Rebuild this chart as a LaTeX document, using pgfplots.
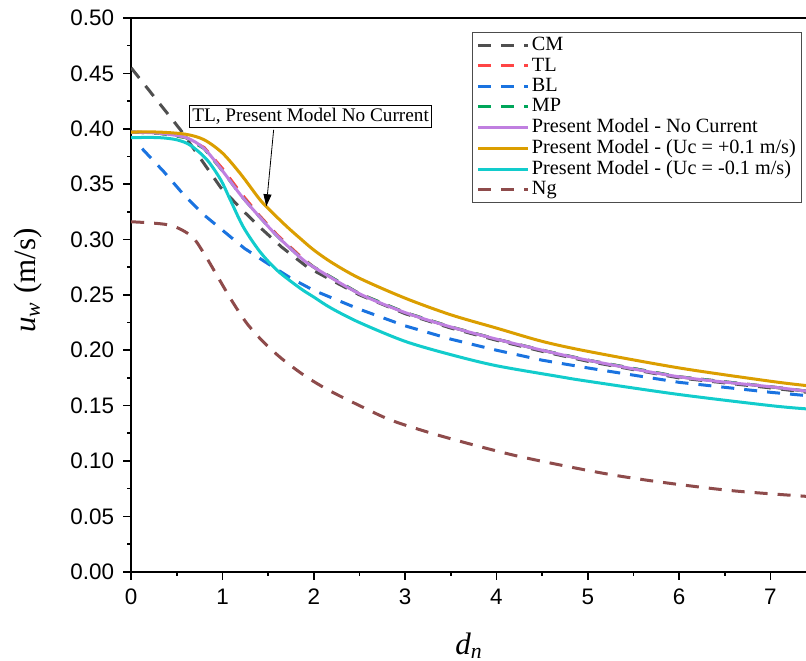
\documentclass[border=0pt]{standalone}
\usepackage{fontspec}
\setmainfont{Liberation Serif}
\setsansfont{Liberation Sans}
\usepackage{pgfplots}
\pgfplotsset{compat=1.18}
\usetikzlibrary{calc,arrows.meta}
\definecolor{cmc}{HTML}{4F4F4F}
\definecolor{tlc}{HTML}{FF4545}
\definecolor{blc}{HTML}{1A73E0}
\definecolor{mpc}{HTML}{00A65A}
\definecolor{pmc}{HTML}{C07FE0}
\definecolor{orc}{HTML}{DB9E00}
\definecolor{cyc}{HTML}{12CCCC}
\definecolor{ngc}{HTML}{8E4B4B}
\begin{document}
\begin{tikzpicture}
\begin{axis}[
  scale only axis, width=337.5pt, height=276.5pt,
  xmin=0, xmax=7.4, ymin=0, ymax=0.5,
  xtick={0,1,...,7}, minor x tick num=1,
  ytick={0,0.05,...,0.5}, minor y tick num=1,
  tick align=outside, tick pos=left,
  major tick length=4pt, minor tick length=2pt,
  axis line style={line width=0.9pt}, every tick/.style={line width=0.8pt,black},
  /pgf/number format/assume math mode=true,
  ticklabel style={font=\sffamily\fontsize{11.2}{13}\selectfont},
  yticklabel style={/pgf/number format/fixed,/pgf/number format/fixed zerofill,/pgf/number format/precision=2, xshift=-1pt},
  xticklabel style={yshift=-1pt},
  xlabel={\fontsize{15.5}{18}\selectfont\textit{d}\textsubscript{\textit{n}}},
  ylabel={\fontsize{15.5}{18}\selectfont\textit{u}\textsubscript{\textit{w}} (m/s)},
  xlabel style={at={(rel axis cs:0.5,-0.134)}, anchor=center},
  ylabel style={at={(rel axis cs:-0.1526,0.526)}, anchor=center},
  legend style={at={(rel axis cs:0.993,0.975)}, anchor=north east, draw=black!70, line width=0.5pt,
    font=\fontsize{10.1}{11}\selectfont, row sep=0pt, inner xsep=2pt, inner ysep=1.5pt,
    nodes={inner sep=1pt}},
  legend cell align=left,
  legend image code/.code={\draw[#1] (0pt,0pt) -- (25pt,0pt);},
  every axis plot/.append style={line width=1.5pt},
  clip=true,
]
\addplot[cmc, dash pattern=on 6.5pt off 5pt] coordinates {
(0,0.455)(0.27,0.427)(0.54,0.399)(0.76,0.373)(0.98,0.347)(1.2,0.328)(1.41,0.311)(1.65,0.293)(1.93,0.275)(2.2,0.263)(2.5,0.250)(3,0.233)(3.5,0.220)(4,0.209)(4.5,0.199)(5,0.190)(6,0.175)(7,0.166)(7.4,0.162)};
\addlegendentry{CM}
\addplot[tlc, dash pattern=on 6.5pt off 5pt] coordinates {
(0,0.397)(0.3,0.396)(0.6,0.392)(0.8,0.383)(1.0,0.364)(1.2,0.342)(1.4,0.322)(1.6,0.304)(1.85,0.285)(2.0,0.275)(2.5,0.251)(3,0.234)(3.5,0.221)(4,0.210)(4.5,0.200)(5,0.191)(6,0.176)(7,0.167)(7.4,0.163)};
\addlegendentry{TL}
\addplot[blc, dash pattern=on 6.5pt off 5pt] coordinates {
(0.12,0.382)(0.36,0.361)(0.58,0.340)(0.8,0.322)(1.02,0.307)(1.24,0.292)(1.5,0.278)(1.75,0.265)(2.0,0.254)(2.5,0.237)(3,0.222)(3.5,0.210)(4,0.200)(4.5,0.191)(5,0.184)(6,0.171)(7,0.162)(7.4,0.159)};
\addlegendentry{BL}
\addplot[mpc, dash pattern=on 6.5pt off 5pt] coordinates {
(0,0.397)(0.3,0.396)(0.6,0.392)(0.8,0.382)(1.0,0.362)(1.2,0.340)(1.4,0.321)(1.6,0.303)(1.85,0.284)(2.0,0.275)(2.5,0.251)(3,0.234)(3.5,0.221)(4,0.210)(4.5,0.200)(5,0.191)(6,0.176)(7,0.167)(7.4,0.163)};
\addlegendentry{MP}
\addplot[pmc, smooth] coordinates {
(0,0.397)(0.3,0.396)(0.6,0.392)(0.8,0.382)(1.0,0.362)(1.2,0.340)(1.4,0.321)(1.6,0.303)(1.85,0.284)(2.0,0.275)(2.5,0.251)(3,0.234)(3.5,0.221)(4,0.210)(4.5,0.200)(5,0.191)(6,0.176)(7,0.167)(7.4,0.163)};
\addlegendentry{Present Model - No Current}
\addplot[orc, smooth] coordinates {
(0,0.397)(0.3,0.397)(0.6,0.395)(0.8,0.390)(1.0,0.378)(1.2,0.359)(1.4,0.337)(1.5,0.328)(1.7,0.312)(1.85,0.301)(2.0,0.2905)(2.2,0.279)(2.5,0.265)(3,0.247)(3.5,0.232)(4,0.220)(4.5,0.208)(5,0.199)(6,0.184)(7,0.172)(7.4,0.168)};
\addlegendentry{Present Model - (Uc = +0.1 m/s)}
\addplot[cyc, smooth] coordinates {
(0,0.392)(0.3,0.392)(0.5,0.390)(0.65,0.385)(0.83,0.372)(0.98,0.354)(1.09,0.335)(1.23,0.311)(1.41,0.289)(1.6,0.272)(1.85,0.256)(2.0,0.248)(2.19,0.238)(2.5,0.225)(3,0.208)(3.5,0.196)(4,0.186)(4.7,0.176)(5,0.172)(6,0.160)(7,0.150)(7.4,0.147)};
\addlegendentry{Present Model - (Uc = -0.1 m/s)}
\addplot[ngc, dash pattern=on 6.5pt off 5pt, smooth] coordinates {
(0,0.316)(0.42,0.313)(0.66,0.303)(0.8,0.287)(0.95,0.266)(1.1,0.245)(1.26,0.225)(1.43,0.209)(1.64,0.193)(1.9,0.177)(2.16,0.164)(2.5,0.150)(2.84,0.137)(3.25,0.126)(3.68,0.116)(4.2,0.105)(4.78,0.095)(5.3,0.087)(5.88,0.080)(6.6,0.073)(7.4,0.068)};
\addlegendentry{Ng}
\node[draw=black, line width=0.6pt, fill=white, inner sep=1.5pt, font=\fontsize{9.6}{10.5}\selectfont] at (axis cs:1.965,0.411) {TL, Present Model No Current};
\draw[-{Triangle[length=6pt,width=4pt]}, line width=0.4pt] (axis cs:1.56,0.399) -- (axis cs:1.48,0.330);
\coordinate (bl) at (rel axis cs:0,0);
\coordinate (tr) at (rel axis cs:1,1);
\end{axis}
\pgfresetboundingbox
\path ($(bl)+(-65.5pt,-44.5pt)$) rectangle ($(tr)+(-0.5pt,9pt)$);
\end{tikzpicture}
\end{document}
